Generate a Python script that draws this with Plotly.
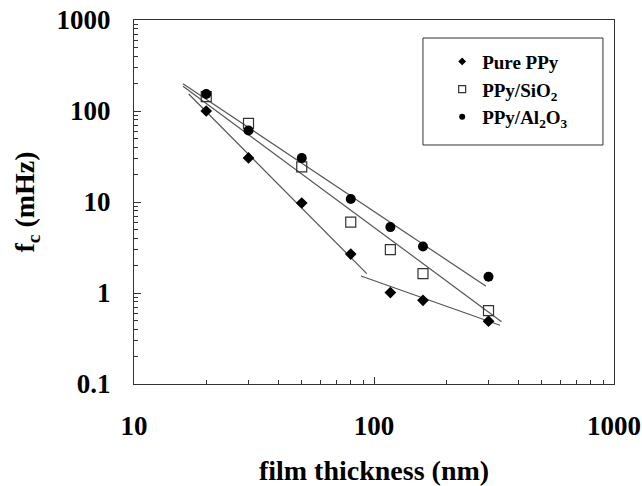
import numpy as np
import plotly.graph_objects as go

# ---- data ----
thickness = [20, 30, 50, 80, 117, 160, 300]
pure_ppy = [100, 30.5, 9.75, 2.68, 1.01, 0.83, 0.49]
ppy_sio2 = [144, 73, 24.3, 6.0, 3.0, 1.63, 0.64]
ppy_al2o3 = [154, 61, 30.5, 10.8, 5.3, 3.25, 1.51]

# power-law trend lines  y = 10**log_coef * x**exponent
trend_exponent = [-2.66, -0.935, -1.949, -1.763]
trend_log_coef = [5.453, 2.006, 4.619, 4.422]
trend_x_from = [16.9, 88.3, 16.0, 16.0]
trend_x_to = [93.3, 335.0, 340.0, 293.0]

y_tickvals = [0.1, 1, 10, 100, 1000]
y_ticktext = ["0.1", "1", "10", "100", "1000"]
x_tickvals = [10, 100, 1000]
x_ticktext = ["10", "100", "1000"]

FONT = "Liberation Serif"

fig = go.Figure()

for b, la, x0, x1 in zip(trend_exponent, trend_log_coef, trend_x_from, trend_x_to):
    xs = np.geomspace(x0, x1, 20)
    ys = 10 ** la * xs ** b
    fig.add_trace(go.Scatter(x=xs, y=ys, mode="lines", showlegend=False,
                             line=dict(color="#555555", width=1.2), hoverinfo="skip"))

series = [
    ("Pure PPy", pure_ppy, dict(symbol="diamond", size=9, color="black")),
    ("PPy/SiO<sub>2</sub>", ppy_sio2, dict(symbol="square-open", size=10, color="#333333", line=dict(width=1.2))),
    ("PPy/Al<sub>2</sub>O<sub>3</sub>", ppy_al2o3, dict(symbol="circle", size=10, color="black")),
]
legend_sizes = [6, 7, 6]
for (name, vals, mk), ls in zip(series, legend_sizes):
    fig.add_trace(go.Scatter(x=thickness, y=vals, mode="markers", marker=mk, showlegend=False))
    lm = dict(mk)
    lm["size"] = ls
    fig.add_trace(go.Scatter(x=[None], y=[None], mode="markers", marker=lm, name=name))

axis_common = dict(
    type="log", showgrid=False, zeroline=False, showline=True, linecolor="#333333",
    linewidth=1, mirror=True, ticks="inside", ticklen=7, tickcolor="#333333",
    automargin=False, ticklabeloverflow="allow",
    minor=dict(ticks="inside", ticklen=4, tickcolor="#333333", dtick="D1", showgrid=False),
    tickfont=dict(family=FONT, size=27, color="black", weight="bold"),
)

fig.update_layout(
    width=642, height=486,
    margin=dict(l=134, r=28, t=20, b=102),
    paper_bgcolor="white", plot_bgcolor="white",
    xaxis=dict(axis_common, range=[1, 3], tickvals=x_tickvals, ticktext=x_ticktext,
               ticklabelstandoff=18,
               title=dict(text="film thickness (nm)", standoff=30,
                          font=dict(family=FONT, size=28, color="black", weight="bold"))),
    yaxis=dict(axis_common, range=[-1, 3], tickvals=y_tickvals, ticktext=y_ticktext,
               ticklabelstandoff=17,
               title=dict(text="f<sub>c</sub> (mHz)", standoff=13,
                          font=dict(family=FONT, size=28, color="black", weight="bold"))),
    legend=dict(x=0.642, y=0.938, xanchor="left", yanchor="top",
                bgcolor="rgba(0,0,0,0)", borderwidth=0,
                font=dict(family=FONT, size=19, color="black", weight="bold"),
                tracegroupgap=0, itemwidth=30),
    shapes=[dict(type="rect", xref="paper", yref="paper", x0=0.602, x1=0.977,
                 y0=0.6566, y1=0.9505, line=dict(color="#333333", width=1))],
)

fig.write_html("out.html", config={"displayModeBar": False},
               post_script="document.body.style.margin='0';document.body.style.overflow='hidden';")
